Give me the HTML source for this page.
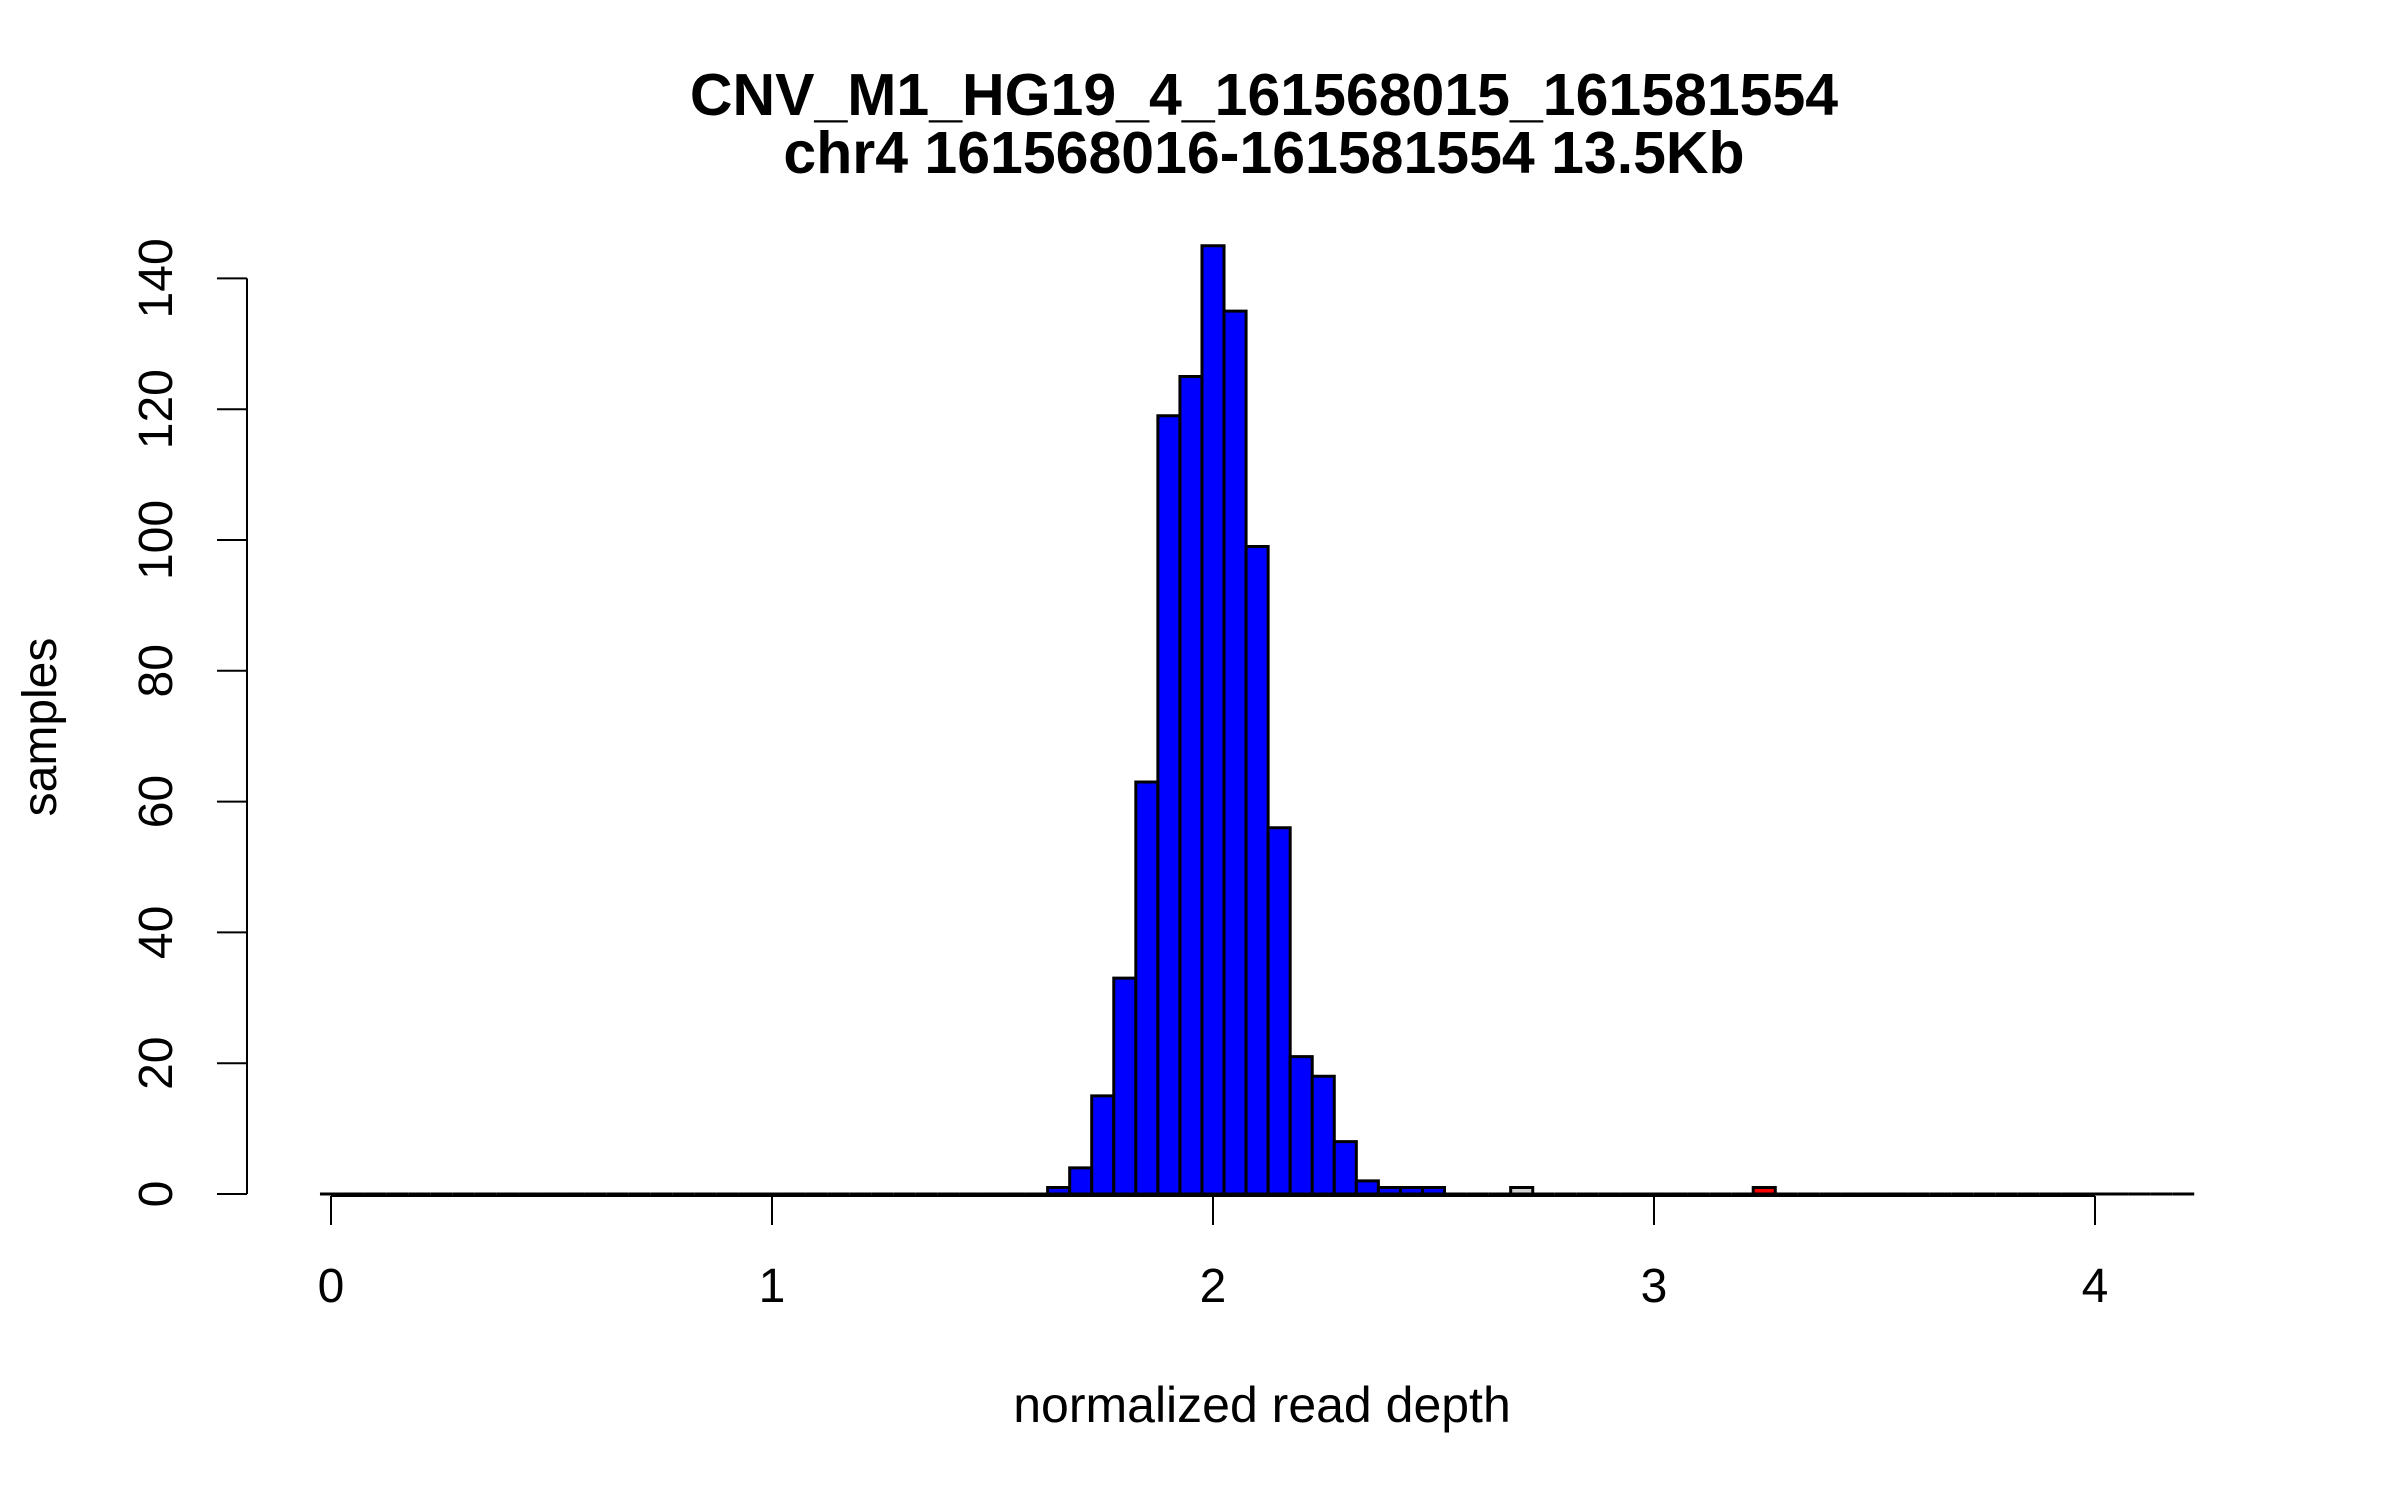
<!DOCTYPE html>
<html><head><meta charset="utf-8"><style>
html,body{margin:0;padding:0;background:#fff;}
svg{display:block;font-family:"Liberation Sans",sans-serif;}
</style></head><body>
<svg id="chart" width="2400" height="1500" viewBox="0 0 2400 1500">
<rect width="2400" height="1500" fill="#fff"/>
<text x="1264" y="115" text-anchor="middle" font-size="59" font-weight="bold">CNV_M1_HG19_4_161568015_161581554</text>
<text x="1264" y="173" text-anchor="middle" font-size="59" font-weight="bold">chr4 161568016-161581554 13.5Kb</text>
<text x="1262" y="1422" text-anchor="middle" font-size="50">normalized read depth</text>
<text x="56" y="727" text-anchor="middle" font-size="48" transform="rotate(-90 56 727)">samples</text>
<g id="xaxis"></g>
<g id="bars"></g>
<g id="yaxis"></g>
</svg>
<script>
const binStart = -0.025;
const binWidth = 0.05;
const counts = [
0,0,0,0,0,0,0,0,0,0, 0,0,0,0,0,0,0,0,0,0,
0,0,0,0,0,0,0,0,0,0, 0,0,0,1,4,15,33,63,119,125,
145,135,99,56,21,18,8,2,1,1, 1,0,0,0,1,0,0,0,0,0,
0,0,0,0,0,1,0,0,0,0, 0,0,0,0,0,0,0,0,0,0,
0,0,0,0,0
];
const binColors = counts.map((c,i)=> i<=52 ? "#0000ff" : (i<=60 ? "#d3d3d3" : "#ff0000"));
const xTicks = [0,1,2,3,4];
const yTicks = [0,20,40,60,80,100,120,140];

const NS = "http://www.w3.org/2000/svg";
const X0 = 331, XU = 441, Y0 = 1194, YU = 6.54;
function sx(v){ return X0 + v*XU; }
function sy(v){ return Y0 - v*YU; }
function mk(tag, attrs){ const e=document.createElementNS(NS,tag); for(const k in attrs) e.setAttribute(k,attrs[k]); return e; }

const bars = document.getElementById("bars");
counts.forEach((c,i)=>{
  const x1 = sx(binStart + i*binWidth), x2 = sx(binStart + (i+1)*binWidth);
  const y0 = sy(0), yc = sy(c);
  const p = mk("path",{d:`M${x1},${y0} V${yc} H${x2} V${y0} Z`,fill:binColors[i],stroke:"#000","stroke-width":3,"stroke-linejoin":"miter"});
  
  
  bars.appendChild(p);
});

const xa = document.getElementById("xaxis");
const xl = mk("line",{x1:sx(xTicks[0]),x2:sx(xTicks[xTicks.length-1]),y1:1196,y2:1196,stroke:"#000","stroke-width":2});


xa.appendChild(xl);
xTicks.forEach(t=>{
  const l = mk("line",{x1:sx(t),x2:sx(t),y1:1196,y2:1225,stroke:"#000","stroke-width":2});
  
  
  xa.appendChild(l);
  const tx = mk("text",{x:sx(t),y:1302,"text-anchor":"middle","font-size":48});
  tx.textContent = t;
  
  
  xa.appendChild(tx);
});

const ya = document.getElementById("yaxis");
const yl = mk("line",{x1:247,x2:247,y1:sy(yTicks[0]),y2:sy(yTicks[yTicks.length-1]),stroke:"#000","stroke-width":2});


ya.appendChild(yl);
yTicks.forEach(t=>{
  const l = mk("line",{x1:217,x2:247,y1:sy(t),y2:sy(t),stroke:"#000","stroke-width":2});
  
  
  ya.appendChild(l);
  const tx = mk("text",{x:172,y:sy(t),"text-anchor":"middle","font-size":48,transform:`rotate(-90 172 ${sy(t)})`});
  tx.textContent = t;
  
  
  ya.appendChild(tx);
});
</script>
</body></html>
